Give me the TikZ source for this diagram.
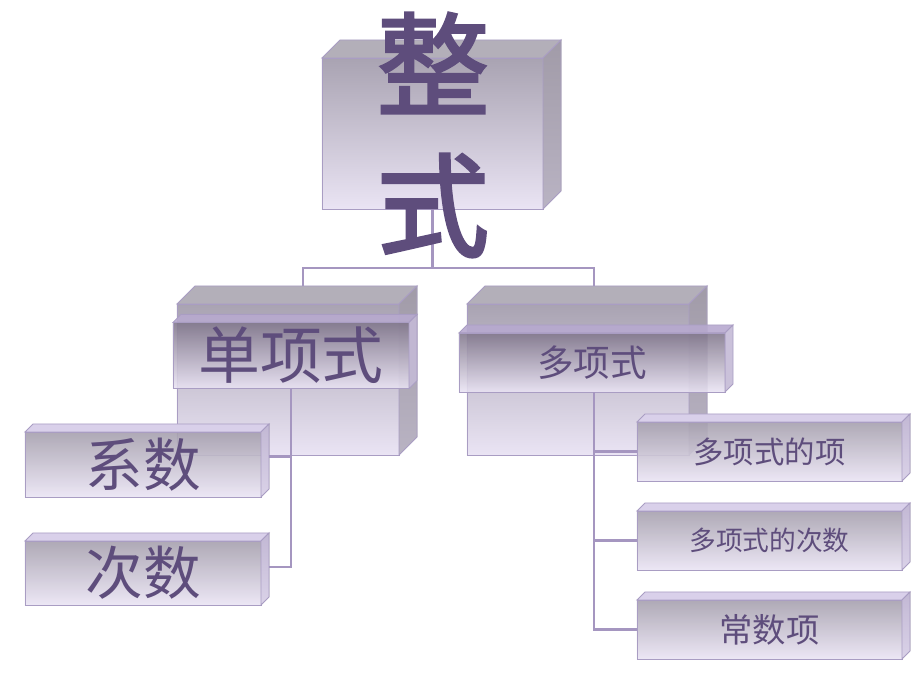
\documentclass[tikz,border=0pt]{standalone}
\usepackage{fontspec}
\newfontfamily\cjk{Noto Sans CJK SC}
\newfontfamily\cjktitle[FakeBold=2.5]{Noto Sans CJK SC}
\usetikzlibrary{calc}
\definecolor{ink}{HTML}{5E4D7C}
\definecolor{wire}{HTML}{A596C0}
\definecolor{rim}{HTML}{A99DC3}
\definecolor{bigtop}{HTML}{A9A3B2}
\definecolor{bartop}{HTML}{80768B}
\definecolor{barmid}{HTML}{A39BAC}
\definecolor{leaftop}{HTML}{A6A0AE}
\definecolor{pale}{HTML}{EAE4F4}
\definecolor{roofgray}{HTML}{B3AFB9}
\definecolor{sidegray}{HTML}{A19BA8}
\definecolor{sidelow}{HTML}{B9B3C3}
\definecolor{roofbar}{HTML}{B7A9CF}
\definecolor{sidebar}{HTML}{C4BAD6}
\definecolor{roofleaf}{HTML}{D9D0EA}
\definecolor{sideleaf}{HTML}{C2B8D4}
\definecolor{sideleaflow}{HTML}{DAD2E8}
\tikzset{%
  % front faces of the boxes
            bigbox/.style = {rectangle, draw=rim, line width=0.6pt, outer sep=0pt,
                             top color=bigtop, bottom color=pale,
                             minimum width=5.55cm, minimum height=3.775cm},
            barbox/.style = {rectangle, draw=rim, line width=0.6pt, outer sep=0pt,
                             top color=bartop, middle color=barmid, bottom color=pale,
                             fill opacity=0.88, text opacity=1, text=ink},
           leafbox/.style = {rectangle, draw=rim, line width=0.6pt, outer sep=0pt,
                             top color=leaftop, bottom color=pale,
                             fill opacity=0.9, text opacity=1, text=ink,
                             minimum width=6.625cm, minimum height=1.475cm},
  % depth faces
           bigroof/.style = {draw=rim, line width=0.6pt, fill=roofgray},
           bigside/.style = {draw=rim, line width=0.6pt, top color=sidegray, bottom color=sidelow},
           barroof/.style = {draw=rim, line width=0.6pt, fill=roofbar, fill opacity=0.9},
           barside/.style = {draw=rim, line width=0.6pt, fill=sidebar, fill opacity=0.9},
          leafroof/.style = {draw=rim, line width=0.6pt, fill=roofleaf},
          leafside/.style = {draw=rim, line width=0.6pt, top color=sideleaf, bottom color=sideleaflow},
              link/.style = {draw=wire, line width=1.9pt}
                 }

\begin{document}
\begin{tikzpicture}[x=0.025cm, y=-0.025cm, font=\cjk]
    \useasboundingbox (0,0) rectangle (920,690);

    % big boxes
    \node (zs) [bigbox, minimum width=5.525cm] at (432.5,133.5) {};
    \node (dx) [bigbox] at (288,379.5) {};
    \node (dy) [bigbox] at (578,379.5) {};
    \foreach \n/\d in {zs/18, dx/18, dy/18}{
        \filldraw[bigroof] (\n.north west) -- ++(\d,-\d) -- ($(\n.north east)+(\d,-\d)$) -- (\n.north east) -- cycle;
        \filldraw[bigside] (\n.north east) -- ++(\d,-\d) -- ($(\n.south east)+(\d,-\d)$) -- (\n.south east) -- cycle;
    }

    \draw[link] (zs.south) -- ++(0,59) coordinate (jt);
    \draw[link] (jt) -| ($(dx.north)+(15,-18)$);
    \draw[link] (jt) -| ($(dy.north)+(16,-18)$);

    % bars with the labels
    \node (dxb) [barbox, minimum width=5.9cm, minimum height=1.625cm,
                 font={\cjk\fontsize{44}{50}\selectfont}] at (291,355.5) {单项式};
    \node (dyb) [barbox, minimum width=6.65cm, minimum height=1.475cm,
                 font={\cjk\fontsize{26}{30}\selectfont}] at (592,362.5) {多项式};
    \foreach \n/\d in {dxb/8, dyb/8}{
        \filldraw[barroof] (\n.north west) -- ++(\d,-\d) -- ($(\n.north east)+(\d,-\d)$) -- (\n.north east) -- cycle;
        \filldraw[barside] (\n.north east) -- ++(\d,-\d) -- ($(\n.south east)+(\d,-\d)$) -- (\n.south east) -- cycle;
    }

    % leaves
    \node (xs) [leafbox, minimum width=5.9cm, minimum height=1.625cm,
                font={\cjk\fontsize{41}{46}\selectfont}] at (143,464.5) {系数};
    \node (cs) [leafbox, minimum width=5.9cm, minimum height=1.6cm,
                font={\cjk\fontsize{41}{46}\selectfont}] at (143,573) {次数};
    \node (dx1) [leafbox, font={\cjk\fontsize{21.6}{26}\selectfont}] at (769.5,451.5) {多项式的项};
    \node (dx2) [leafbox, font={\cjk\fontsize{19}{23}\selectfont}] at (769.5,540.5) {多项式的次数};
    \node (dx3) [leafbox, font={\cjk\fontsize{23.7}{28}\selectfont}] at (769.5,629.5) {常数项};
    \foreach \n/\d in {xs/8, cs/8, dx1/8, dx2/8, dx3/8}{
        \filldraw[leafroof] (\n.north west) -- ++(\d,-\d) -- ($(\n.north east)+(\d,-\d)$) -- (\n.north east) -- cycle;
        \filldraw[leafside] (\n.north east) -- ++(\d,-\d) -- ($(\n.south east)+(\d,-\d)$) -- (\n.south east) -- cycle;
    }

    \draw[link] (dxb.south) |- ($(xs.east)+(8,-8)$);
    \draw[link] (dxb.south) |- ($(cs.east)+(8,-6)$);
    \draw[link] ($(dyb.south)+(2,0)$) |- (dx1.west);
    \draw[link] ($(dyb.south)+(2,0)$) |- (dx2.west);
    \draw[link] ($(dyb.south)+(2,0)$) |- (dx3.west);

    \node (zsl) [text=ink, align=center, font={\cjktitle\fontsize{80}{100}\selectfont}] at (433,135) {整\\式};
\end{tikzpicture}
\end{document}
